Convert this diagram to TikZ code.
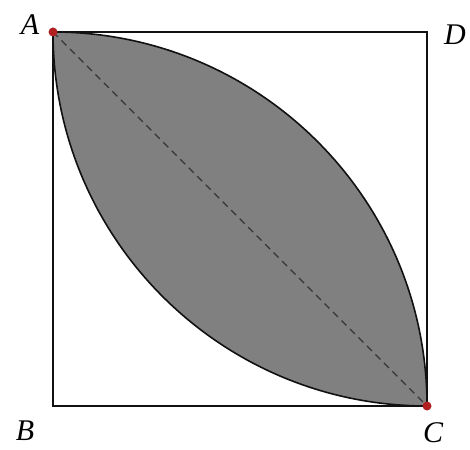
\documentclass[tikz,border=0pt]{standalone}
\usepackage{fontspec}
\setmainfont{Liberation Serif}
\usetikzlibrary{calc}
\definecolor{ink}{HTML}{111111}
\definecolor{lens}{HTML}{808080}
\definecolor{pt}{HTML}{B02020}
\tikzset{
  side/.style={ink,line width=2.2pt},
  rim/.style={ink,line width=1.6pt},
  diag/.style={ink!85,line width=1.3pt,dash pattern=on 7pt off 5pt},
  vtx/.style={circle,fill=pt,inner sep=0pt,minimum size=9pt},
  lbl/.style={font=\fontsize{30}{32}\selectfont\itshape},
}
\begin{document}
\begin{tikzpicture}[x=1pt,y=1pt]
  \useasboundingbox (0,0) rectangle (470,449);
  % corners of the square
  \coordinate (A) at (53,417);
  \coordinate (D) at (427,417);
  \coordinate (B) at (53,43);
  \coordinate (C) at (427,43);
  % lens between the two quarter circles
  \fill[lens] (A) arc[start angle=90,end angle=0,radius=374pt]
    arc[start angle=270,end angle=180,radius=374pt] -- cycle;
  \draw[rim] (A) arc[start angle=90,end angle=0,radius=374pt];
  \draw[rim] (C) arc[start angle=270,end angle=180,radius=374pt];
  \draw[side] (A) -- (D) -- (C) -- (B) -- cycle;
  \draw[diag] (A) -- (C);
  \node[vtx] (pA) at (A) {};
  \node[vtx] (pC) at (C) {};
  % labels
  \node[lbl] (lA) at (30,424) {A};
  \node[lbl] (lD) at (455,414) {D};
  \node[lbl] (lB) at (25,18) {B};
  \node[lbl] (lC) at (433,16) {C};
\end{tikzpicture}
\end{document}
